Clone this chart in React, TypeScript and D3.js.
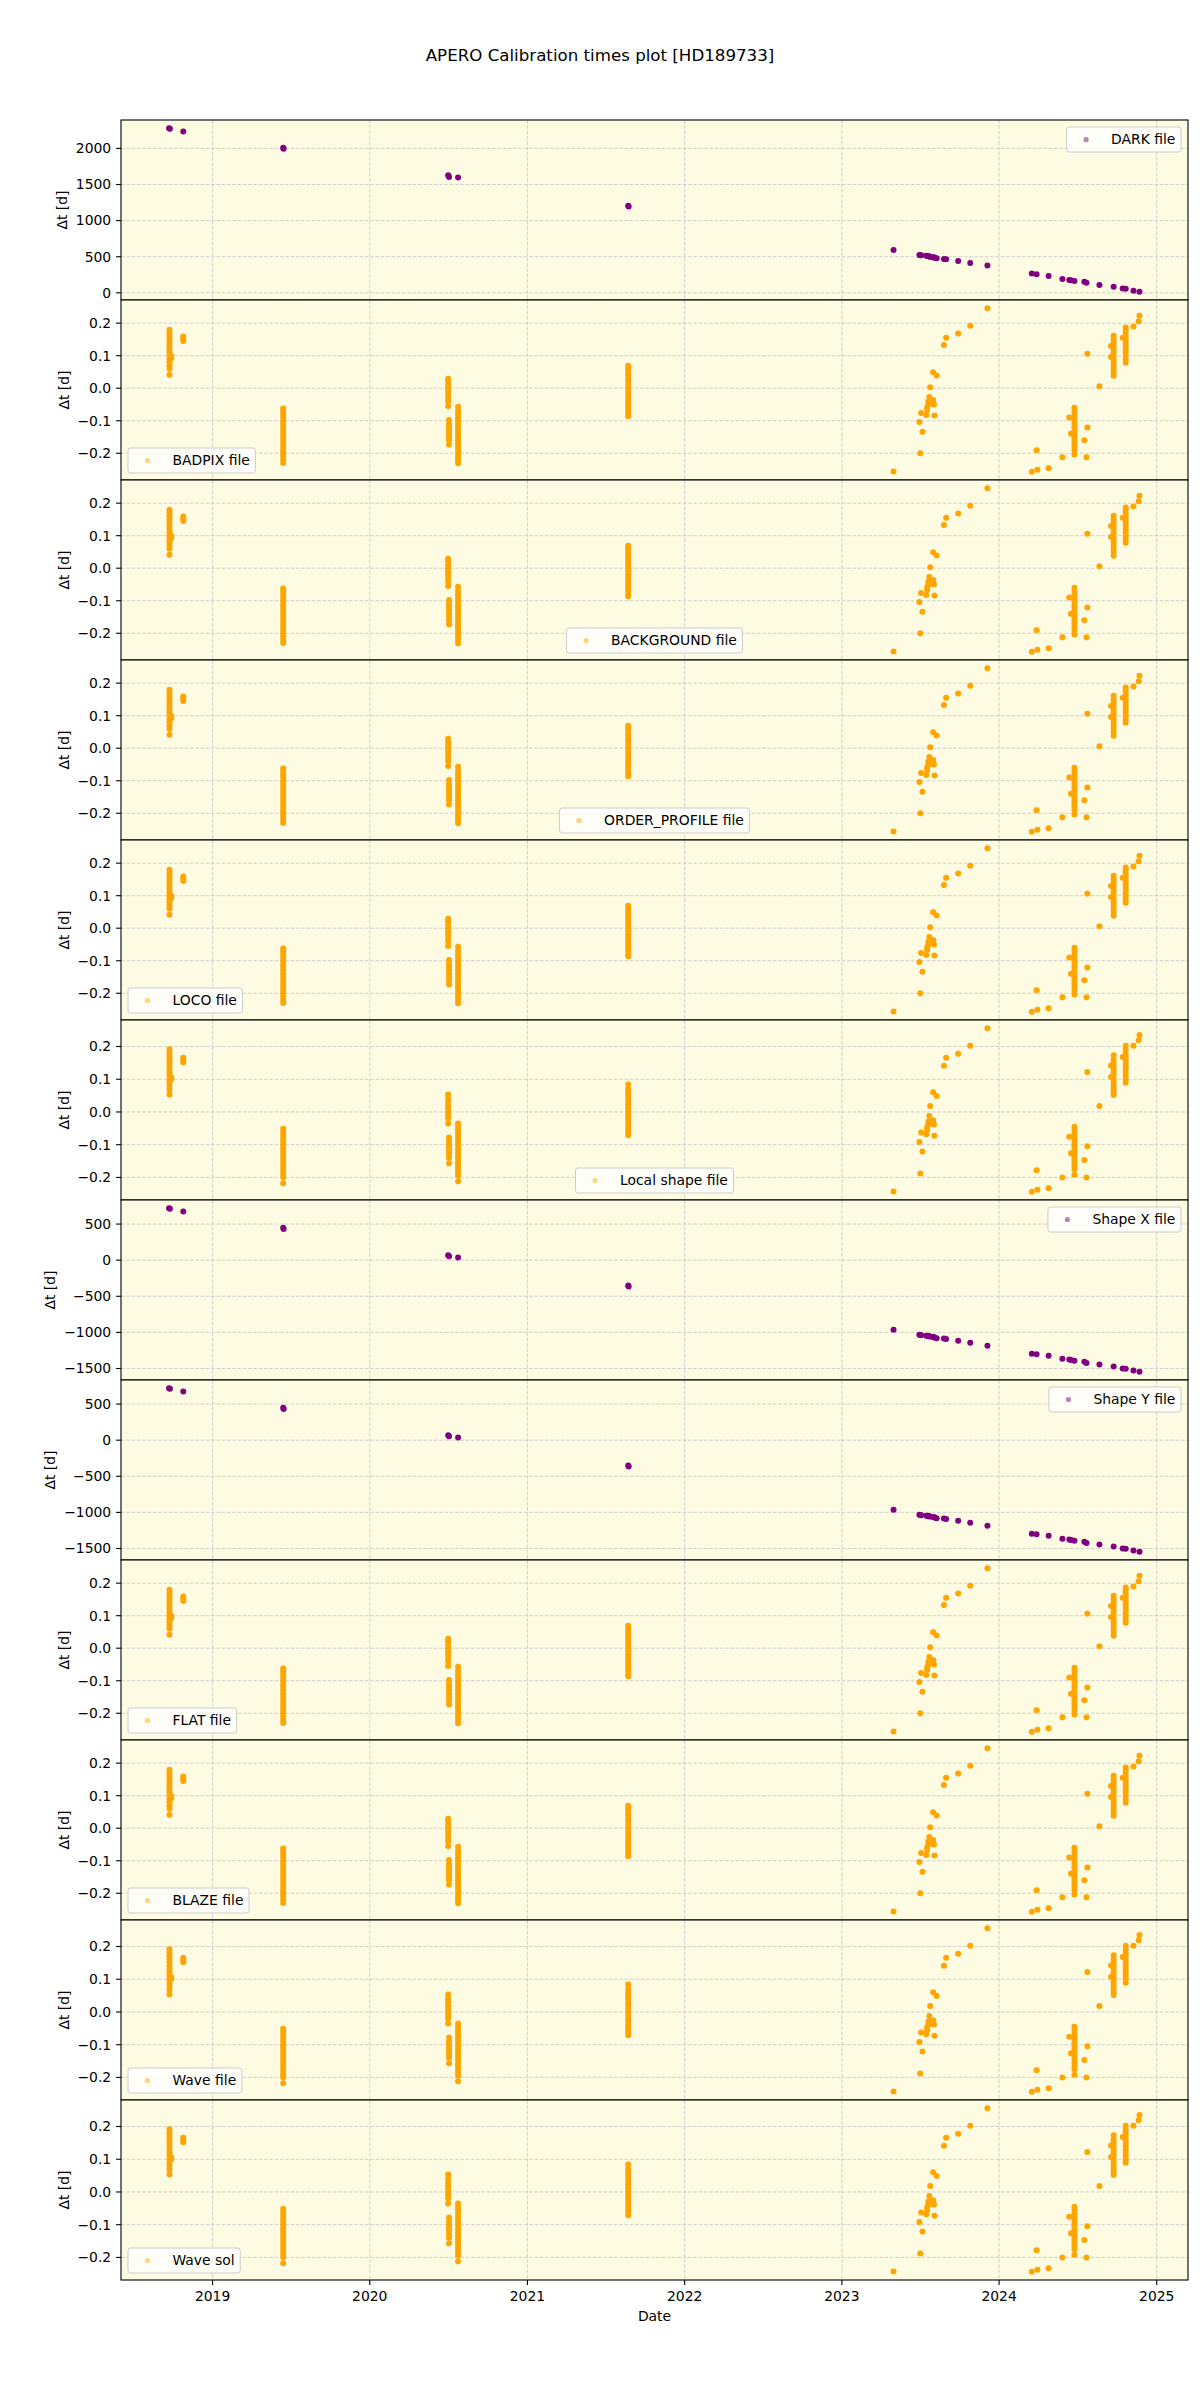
import React, { useEffect, useRef } from "react";
import * as d3 from "d3";

// DARK calibrations: date and delta-t in days
const darkDates = [
  "2018-09-22", "2018-09-24", "2018-10-25", "2019-06-14", "2019-06-15", "2020-07-01",
  "2020-07-03", "2020-07-24", "2021-08-23", "2021-08-24", "2023-05-01", "2023-06-30",
  "2023-07-02", "2023-07-04", "2023-07-16", "2023-07-18", "2023-07-21", "2023-07-23",
  "2023-07-25", "2023-08-01", "2023-08-03", "2023-08-04", "2023-08-09", "2023-08-26",
  "2023-08-31", "2023-09-28", "2023-10-26", "2023-12-05", "2024-03-17", "2024-03-28",
  "2024-04-25", "2024-05-27", "2024-06-12", "2024-06-16", "2024-06-24", "2024-07-17",
  "2024-07-22", "2024-08-21", "2024-09-23", "2024-10-14", "2024-10-21", "2024-11-08",
  "2024-11-22",
];
const darkValues = [
  2280, 2272, 2234, 2008, 1994, 1628,
  1605, 1598, 1205, 1195, 593, 524,
  522, 520, 512, 510, 506, 503,
  500, 493, 490, 488, 480, 470,
  466, 441, 414, 377, 266, 257,
  234, 193, 179, 175, 165, 152,
  138, 110, 83, 59, 55, 28,
  14,
];

// Shape X / Shape Y calibrations (same nights as DARK)
const shapeXValues = [
  720, 712, 675, 450, 432, 69,
  54, 36, -352, -364, -964, -1033,
  -1036, -1038, -1046, -1048, -1052, -1055,
  -1058, -1065, -1068, -1070, -1080, -1085,
  -1090, -1116, -1143, -1185, -1295, -1304,
  -1322, -1364, -1377, -1383, -1391, -1405,
  -1423, -1446, -1473, -1501, -1505, -1528,
  -1546,
];
const shapeYValues = [
  720, 712, 675, 450, 432, 69,
  54, 36, -352, -364, -964, -1033,
  -1036, -1038, -1046, -1048, -1052, -1055,
  -1058, -1065, -1068, -1070, -1080, -1085,
  -1090, -1116, -1143, -1185, -1295, -1304,
  -1322, -1364, -1377, -1383, -1391, -1405,
  -1423, -1446, -1473, -1501, -1505, -1528,
  -1546,
];

// nights used by the per-observation calibrations
const nightDates = [
  "2018-09-23", "2018-09-27", "2018-10-25", "2019-06-14", "2020-07-01", "2020-07-03",
  "2020-07-24", "2021-08-23", "2023-05-01", "2023-06-30", "2023-07-02", "2023-07-04",
  "2023-07-07", "2023-07-16", "2023-07-18", "2023-07-21", "2023-07-23", "2023-07-25",
  "2023-08-01", "2023-08-03", "2023-08-04", "2023-08-09", "2023-08-26", "2023-08-31",
  "2023-09-28", "2023-10-26", "2023-12-05", "2024-03-17", "2024-03-28", "2024-03-30",
  "2024-04-25", "2024-05-27", "2024-06-12", "2024-06-16", "2024-06-24", "2024-07-17",
  "2024-07-22", "2024-07-24", "2024-08-21", "2024-09-17", "2024-09-23", "2024-10-14",
  "2024-10-21", "2024-11-08", "2024-11-20", "2024-11-22",
];

// BADPIX, BACKGROUND, ORDER_PROFILE, LOCO, FLAT, BLAZE
const calibValuesA = [
  [0.18, 0.17, 0.16, 0.15, 0.14, 0.13, 0.12, 0.11, 0.1, 0.09, 0.08, 0.07, 0.06, 0.041],
  [0.1, 0.092],
  [0.159, 0.152, 0.145],
  [-0.062, -0.07, -0.08, -0.09, -0.1, -0.11, -0.12, -0.13, -0.14, -0.15, -0.16, -0.17, -0.18, -0.19, -0.2, -0.21, -0.22, -0.23],
  [0.029, 0.02, 0.01, 0.0, -0.01, -0.02, -0.03, -0.04, -0.055],
  [-0.098, -0.11, -0.12, -0.13, -0.14, -0.15, -0.16, -0.173],
  [-0.057, -0.07, -0.08, -0.09, -0.1, -0.11, -0.12, -0.13, -0.14, -0.15, -0.16, -0.17, -0.18, -0.19, -0.2, -0.21, -0.22, -0.231],
  [0.069, 0.06, 0.05, 0.04, 0.03, 0.02, 0.01, 0.0, -0.01, -0.02, -0.03, -0.04, -0.05, -0.06, -0.07, -0.08, -0.086],
  [-0.256],
  [-0.104],
  [-0.2],
  [-0.076],
  [-0.134],
  [-0.082],
  [-0.067, -0.059],
  [-0.05, -0.041],
  [-0.027],
  [0.003],
  [-0.036, 0.049],
  [-0.05],
  [-0.084],
  [0.039],
  [0.133],
  [0.155],
  [0.168],
  [0.192],
  [0.246],
  [-0.257],
  [-0.191],
  [-0.251],
  [-0.246],
  [-0.212],
  [-0.09],
  [-0.14],
  [-0.06, -0.07, -0.08, -0.09, -0.1, -0.11, -0.12, -0.13, -0.14, -0.15, -0.16, -0.17, -0.18, -0.19, -0.204],
  [-0.16],
  [-0.212],
  [-0.121, 0.106],
  [0.006],
  [0.13, 0.096],
  [0.161, 0.15, 0.14, 0.13, 0.12, 0.11, 0.1, 0.09, 0.08, 0.07, 0.06, 0.05, 0.038],
  [0.155],
  [0.187, 0.18, 0.17, 0.16, 0.15, 0.14, 0.13, 0.12, 0.11, 0.1, 0.09, 0.078],
  [0.19],
  [0.206],
  [0.223],
];

// Local shape, Wave file, Wave sol
const calibValuesB = [
  [0.192, 0.18, 0.17, 0.16, 0.15, 0.14, 0.13, 0.12, 0.11, 0.1, 0.09, 0.08, 0.068, 0.053],
  [0.107, 0.1],
  [0.166, 0.159, 0.152],
  [-0.051, -0.06, -0.07, -0.08, -0.09, -0.1, -0.11, -0.12, -0.13, -0.14, -0.15, -0.16, -0.17, -0.18, -0.19, -0.2, -0.218],
  [0.053, 0.04, 0.03, 0.02, 0.01, 0.0, -0.01, -0.02, -0.035],
  [-0.078, -0.09, -0.1, -0.11, -0.12, -0.13, -0.14, -0.157],
  [-0.035, -0.045, -0.055, -0.065, -0.075, -0.085, -0.095, -0.105, -0.115, -0.125, -0.135, -0.145, -0.155, -0.165, -0.175, -0.185, -0.195, -0.212],
  [0.084, 0.07, 0.06, 0.05, 0.04, 0.03, 0.02, 0.01, 0.0, -0.01, -0.02, -0.03, -0.04, -0.05, -0.06, -0.071],
  [-0.243],
  [-0.092],
  [-0.188],
  [-0.063],
  [-0.121],
  [-0.068],
  [-0.056, -0.047],
  [-0.038, -0.029],
  [-0.012],
  [0.018],
  [-0.025, 0.06],
  [-0.038],
  [-0.073],
  [0.049],
  [0.141],
  [0.166],
  [0.178],
  [0.202],
  [0.256],
  [-0.244],
  [-0.178],
  [-0.238],
  [-0.233],
  [-0.2],
  [-0.076],
  [-0.126],
  [-0.045, -0.055, -0.065, -0.075, -0.085, -0.095, -0.105, -0.115, -0.125, -0.135, -0.145, -0.155, -0.165, -0.175, -0.192],
  [-0.147],
  [-0.2],
  [-0.105, 0.122],
  [0.018],
  [0.142, 0.107],
  [0.173, 0.16, 0.15, 0.14, 0.13, 0.12, 0.11, 0.1, 0.09, 0.08, 0.07, 0.06, 0.052],
  [0.168],
  [0.202, 0.19, 0.18, 0.17, 0.16, 0.15, 0.14, 0.13, 0.12, 0.11, 0.1, 0.089],
  [0.202],
  [0.219],
  [0.235],
];

const yearTicks = ["2019", "2020", "2021", "2022", "2023", "2024", "2025"];

type LegendLoc = "upper right" | "lower left" | "lower center";

const panels: { label: string; set: string; color: string; loc: LegendLoc }[] = [
  { label: "DARK file", set: "dark", color: "purple", loc: "upper right" },
  { label: "BADPIX file", set: "A", color: "orange", loc: "lower left" },
  { label: "BACKGROUND file", set: "A", color: "orange", loc: "lower center" },
  { label: "ORDER_PROFILE file", set: "A", color: "orange", loc: "lower center" },
  { label: "LOCO file", set: "A", color: "orange", loc: "lower left" },
  { label: "Local shape file", set: "B", color: "orange", loc: "lower center" },
  { label: "Shape X file", set: "shapeX", color: "purple", loc: "upper right" },
  { label: "Shape Y file", set: "shapeY", color: "purple", loc: "upper right" },
  { label: "FLAT file", set: "A", color: "orange", loc: "lower left" },
  { label: "BLAZE file", set: "A", color: "orange", loc: "lower left" },
  { label: "Wave file", set: "B", color: "orange", loc: "lower left" },
  { label: "Wave sol", set: "B", color: "orange", loc: "lower left" },
];

const FONT = "DejaVu Sans, sans-serif";

const App: React.FC = () => {
  const svgRef = useRef<SVGSVGElement>(null);

  useEffect(() => {
    if (!svgRef.current) return;
    const svg = d3.select(svgRef.current);
    svg.selectAll("*").remove();

    const width = 1200;
    const height = 2400;
    const left = 121;
    const right = 1188;
    const top = 120;
    const panelH = 180;

    const parse = d3.timeParse("%Y-%m-%d");

    const points = (set: string) => {
      if (set === "dark")
        return darkDates.map((d, i) => ({ date: parse(d)!, value: darkValues[i] }));
      if (set === "shapeX")
        return darkDates.map((d, i) => ({ date: parse(d)!, value: shapeXValues[i] }));
      if (set === "shapeY")
        return darkDates.map((d, i) => ({ date: parse(d)!, value: shapeYValues[i] }));
      const vals = set === "A" ? calibValuesA : calibValuesB;
      return nightDates.flatMap((d, i) =>
        vals[i].map((v) => ({ date: parse(d)!, value: v }))
      );
    };

    // shared x scale, padded by 5% like matplotlib
    const allDates = nightDates.map((d) => parse(d)!.getTime());
    const [d0, d1] = d3.extent(allDates) as [number, number];
    const span = d1 - d0;
    const xScale = d3
      .scaleTime()
      .domain([new Date(d0 - 0.05 * span), new Date(d1 + 0.05 * span)])
      .range([left, right]);
    const yearDates = yearTicks.map((y) => parse(`${y}-01-01`)!);

    svg.attr("width", width).attr("height", height);
    svg.append("rect").attr("width", width).attr("height", height).attr("fill", "#ffffff");

    // Title
    svg
      .append("text")
      .attr("x", 600)
      .attr("y", 61)
      .attr("text-anchor", "middle")
      .style("font-family", FONT)
      .style("font-size", "16.67px")
      .style("fill", "#000")
      .text("APERO Calibration times plot [HD189733]");

    panels.forEach((p, i) => {
      const data = points(p.set);
      const y0 = top + i * panelH;
      const y1 = y0 + panelH;
      const [vmin, vmax] = d3.extent(data, (d) => d.value) as [number, number];
      const pad = (vmax - vmin) * 0.05;
      const yScale = d3.scaleLinear().domain([vmin - pad, vmax + pad]).range([y1, y0]);
      const yTicks = yScale.ticks(5);
      const fmt = p.set === "A" || p.set === "B" ? d3.format(".1f") : d3.format("d");

      const g = svg.append("g");

      // background
      g.append("rect")
        .attr("x", left)
        .attr("y", y0)
        .attr("width", right - left)
        .attr("height", panelH)
        .attr("fill", "#fdfbe1");

      // grid
      const grid = g.append("g").attr("stroke", "#c8c8c8").attr("stroke-width", 0.8).attr("stroke-dasharray", "3.7,1.6");
      grid
        .selectAll(".gx")
        .data(yearDates)
        .enter()
        .append("line")
        .attr("x1", (d) => xScale(d))
        .attr("x2", (d) => xScale(d))
        .attr("y1", y0)
        .attr("y2", y1);
      grid
        .selectAll(".gy")
        .data(yTicks)
        .enter()
        .append("line")
        .attr("x1", left)
        .attr("x2", right)
        .attr("y1", (d) => yScale(d))
        .attr("y2", (d) => yScale(d));

      // points
      g.append("g")
        .selectAll("circle")
        .data(data)
        .enter()
        .append("circle")
        .attr("cx", (d) => xScale(d.date))
        .attr("cy", (d) => yScale(d.value))
        .attr("r", 3)
        .attr("fill", p.color);

      // frame
      g.append("rect")
        .attr("x", left)
        .attr("y", y0)
        .attr("width", right - left)
        .attr("height", panelH)
        .attr("fill", "none")
        .attr("stroke", "#000")
        .attr("stroke-width", 1.1);

      // y ticks
      const yt = g.append("g");
      yt.selectAll("line")
        .data(yTicks)
        .enter()
        .append("line")
        .attr("x1", left - 4.9)
        .attr("x2", left)
        .attr("y1", (d) => yScale(d))
        .attr("y2", (d) => yScale(d))
        .attr("stroke", "#000")
        .attr("stroke-width", 1.1);
      const labels = yt
        .selectAll("text")
        .data(yTicks)
        .enter()
        .append("text")
        .attr("x", left - 9.8)
        .attr("y", (d) => yScale(d))
        .attr("dy", "0.35em")
        .attr("text-anchor", "end")
        .style("font-family", FONT)
        .style("font-size", "13.9px")
        .style("fill", "#000")
        .text((d) => fmt(d));
      let maxW = 0;
      labels.each(function () {
        maxW = Math.max(maxW, (this as SVGTextElement).getComputedTextLength());
      });

      // y-axis label
      const lx = left - 9.8 - maxW - 5.6 - 8.1 + 4.8;
      const ly = (y0 + y1) / 2;
      g.append("text")
        .attr("transform", `translate(${lx},${ly}) rotate(-90)`)
        .attr("text-anchor", "middle")
        .style("font-family", FONT)
        .style("font-size", "13.9px")
        .style("fill", "#000")
        .text("Δt [d]");

      // legend
      const lg = g.append("g");
      const frame = lg.append("rect");
      const txt = lg
        .append("text")
        .style("font-family", FONT)
        .style("font-size", "13.9px")
        .style("fill", "#000")
        .text(p.label);
      const tw = (txt.node() as SVGTextElement).getComputedTextLength();
      const bw = 5.6 + 27.8 + 11.1 + tw + 5.6;
      const bh = 25;
      let bx = left + 7;
      let by = y1 - 7 - bh;
      if (p.loc === "upper right") {
        bx = right - 7 - bw;
        by = y0 + 7;
      } else if (p.loc === "lower center") {
        bx = (left + right) / 2 - bw / 2;
      }
      frame
        .attr("x", bx)
        .attr("y", by)
        .attr("width", bw)
        .attr("height", bh)
        .attr("rx", 2.8)
        .attr("fill", "#ffffff")
        .attr("fill-opacity", 0.8)
        .attr("stroke", "#cccccc")
        .attr("stroke-width", 1);
      txt.attr("x", bx + 5.6 + 27.8 + 11.1).attr("y", by + bh / 2 + 4.8);
      lg.append("circle")
        .attr("cx", bx + 5.6 + 13.9)
        .attr("cy", by + bh / 2)
        .attr("r", 2.6)
        .attr("fill", p.color)
        .attr("opacity", 0.5);

      // x axis on the bottom panel only
      if (i === panels.length - 1) {
        const xt = g.append("g");
        xt.selectAll("line")
          .data(yearDates)
          .enter()
          .append("line")
          .attr("x1", (d) => xScale(d))
          .attr("x2", (d) => xScale(d))
          .attr("y1", y1)
          .attr("y2", y1 + 4.9)
          .attr("stroke", "#000")
          .attr("stroke-width", 1.1);
        xt.selectAll("text")
          .data(yearDates)
          .enter()
          .append("text")
          .attr("x", (d) => xScale(d))
          .attr("y", y1 + 20.5)
          .attr("text-anchor", "middle")
          .style("font-family", FONT)
          .style("font-size", "13.9px")
          .style("fill", "#000")
          .text((_, k) => yearTicks[k]);
        g.append("text")
          .attr("x", (left + right) / 2)
          .attr("y", y1 + 40.5)
          .attr("text-anchor", "middle")
          .style("font-family", FONT)
          .style("font-size", "13.9px")
          .style("fill", "#000")
          .text("Date");
      }
    });
  }, []);

  return (
    <div style={{ position: "absolute", left: 0, top: 0 }}>
      <svg ref={svgRef} style={{ display: "block" }}></svg>
    </div>
  );
};

export default App;
